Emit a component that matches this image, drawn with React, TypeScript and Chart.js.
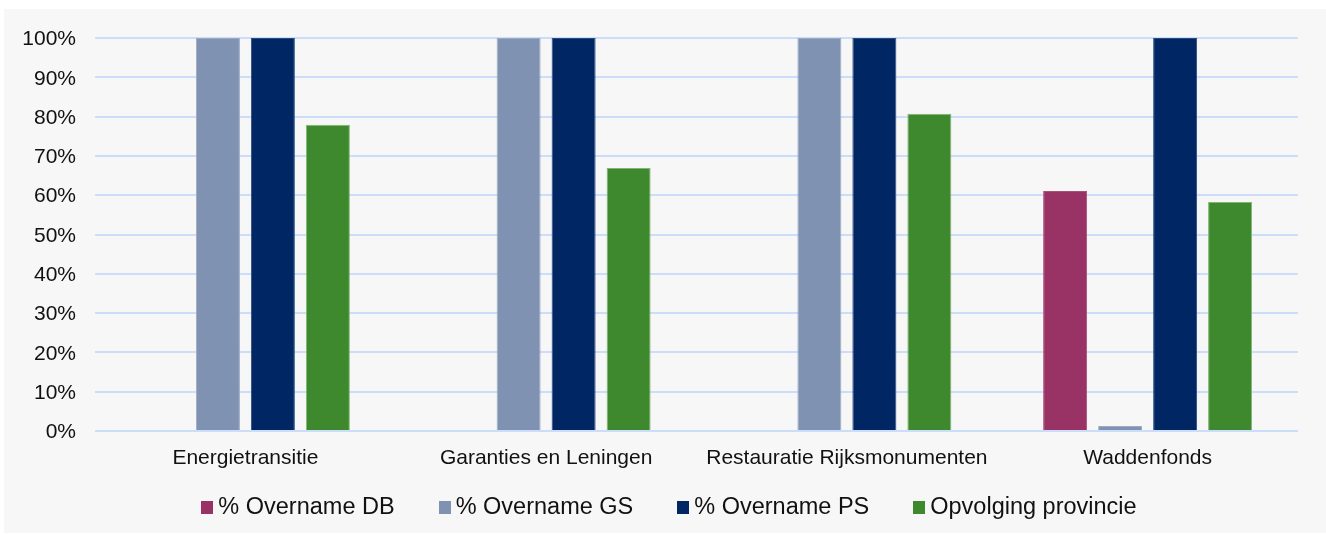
import React, { useEffect, useRef } from "react";
import { Chart, registerables } from "chart.js";

Chart.register(...registerables);

const FONT = '"Liberation Sans", Arial, Helvetica, sans-serif';

const categories = [
  "Energietransitie",
  "Garanties en Leningen",
  "Restauratie Rijksmonumenten",
  "Waddenfonds",
];
const overnameDB = [0, 0, 0, 61.1];
const overnameGS = [100, 100, 100, 1.3];
const overnamePS = [100, 100, 100, 100];
const opvolgingProvincie = [77.9, 66.9, 80.7, 58.3];

const seriesLabels = ["% Overname DB", "% Overname GS", "% Overname PS", "Opvolging provincie"];
const seriesColors = ["#993366", "#7f92b1", "#002663", "#3e892e"];
const seriesBorders = ["#a85078", "#9aaac4", "#2a4a80", "#7fb872"];

const Y_MIN = 0;
const Y_MAX = 100;
const Y_STEP = 10;

const legendPlugin = {
  id: "customLegend",
  afterDraw(chart: any) {
    const ctx = chart.ctx;
    ctx.save();
    ctx.font = `23.5px ${FONT}`;
    const box = 12;
    const gapText = 5;
    const gapItem = 44;
    const items = chart.data.datasets.map((ds: any) => ({
      label: ds.label as string,
      color: ds.backgroundColor as string,
      w: ctx.measureText(ds.label).width,
    }));
    const total =
      items.reduce((s: number, it: any) => s + box + gapText + it.w, 0) +
      gapItem * (items.length - 1);
    let x = chart.width / 2 + 4 - total / 2;
    const yc = 498;
    for (const it of items) {
      ctx.fillStyle = it.color;
      ctx.fillRect(Math.round(x), yc - 6, box, 13);
      ctx.fillStyle = "#111111";
      ctx.textBaseline = "alphabetic";
      ctx.textAlign = "left";
      ctx.fillText(it.label, x + box + gapText, 505);
      x += box + gapText + it.w + gapItem;
    }
    ctx.restore();
  },
};

export default function App() {
  const canvasRef = useRef<HTMLCanvasElement | null>(null);

  useEffect(() => {
    if (!canvasRef.current) return;
    const seriesData = [overnameDB, overnameGS, overnamePS, opvolgingProvincie];
    const chart = new Chart(canvasRef.current, {
      type: "bar",
      data: {
        labels: categories,
        datasets: seriesData.map((d, i) => ({
          label: seriesLabels[i],
          data: d,
          backgroundColor: seriesColors[i],
          borderColor: seriesBorders[i],
          borderWidth: (c: any) => (c.raw ? 1 : 0),
          categoryPercentage: 0.7315,
          barPercentage: 0.8,
        })),
      },
      options: {
        responsive: false,
        devicePixelRatio: 1,
        animation: false,
        layout: { padding: { top: 29, right: 28, left: 0, bottom: 0 } },
        plugins: {
          legend: { display: false },
          tooltip: { enabled: false },
        },
        scales: {
          x: {
            grid: { display: false, drawTicks: false },
            border: { display: false },
            ticks: {
              color: "#111111",
              font: { family: FONT, size: 21 },
              padding: 15,
              maxRotation: 0,
              autoSkip: false,
            },
            afterFit: (axis: any) => {
              axis.height = 102;
              axis.paddingLeft = 0;
              axis.paddingRight = 0;
            },
          },
          y: {
            min: Y_MIN,
            max: Y_MAX,
            grid: { color: "#cbddf9", lineWidth: 2, drawTicks: false },
            border: { display: false },
            ticks: {
              stepSize: Y_STEP,
              color: "#111111",
              font: { family: FONT, size: 21 },
              padding: 19,
              labelOffset: 1.5,
              callback: (v: any) => `${v}%`,
            },
            afterFit: (axis: any) => {
              axis.width = 91;
              axis.paddingTop = 0;
              axis.paddingBottom = 0;
            },
          },
        },
      },
      plugins: [legendPlugin],
    });
    return () => chart.destroy();
  }, []);

  return (
    <div
      style={{
        position: "absolute",
        left: 4,
        top: 9,
        width: 1322,
        height: 524,
        background: "#f7f7f7",
      }}
    >
      <canvas ref={canvasRef} width={1322} height={524} style={{ display: "block" }} />
    </div>
  );
}
